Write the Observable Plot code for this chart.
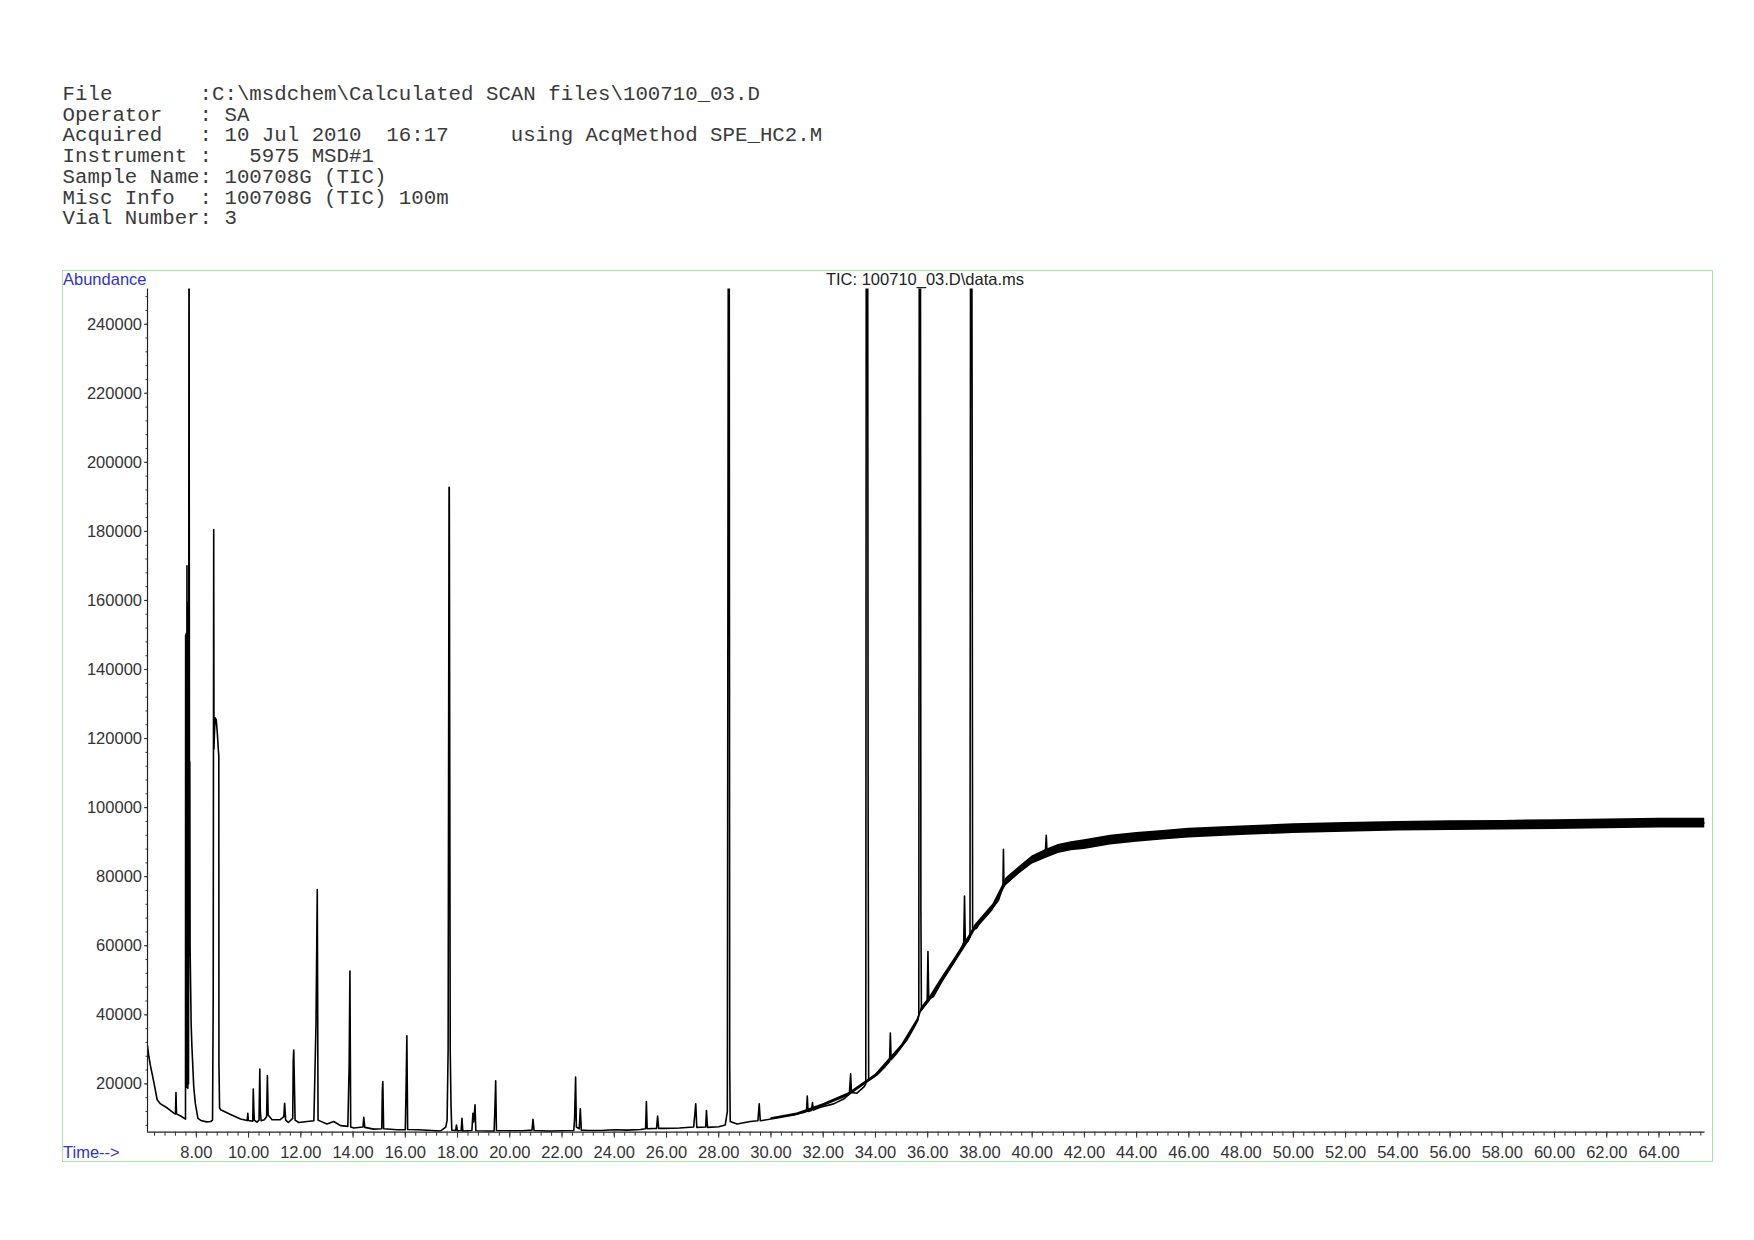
<!DOCTYPE html>
<html><head><meta charset="utf-8">
<script src="https://cdn.jsdelivr.net/npm/d3@7"></script>
<script src="https://cdn.jsdelivr.net/npm/@observablehq/plot@0.6"></script>
<style>
html,body{margin:0;padding:0;background:#fff;}
body{width:1754px;height:1240px;position:relative;overflow:hidden;}
#hdr{position:absolute;left:62.6px;top:85px;font-family:"Liberation Mono","DejaVu Sans Mono",monospace;font-size:20.75px;line-height:20.7px;white-space:pre;color:#3a3a3a;}
#chart{position:absolute;left:62px;top:269.5px;}
#frame{position:absolute;left:62px;top:269.5px;width:1651px;height:892px;border:1.5px solid #a6e3a6;box-sizing:border-box;}
.lbl{position:absolute;font-family:"Liberation Sans",Arial,sans-serif;font-size:16.5px;line-height:18.4px;white-space:pre;}
</style></head><body>
<div id="hdr"></div>
<div id="chart"></div>
<div id="frame"></div>
<div class="lbl" id="ylab" style="left:63px;top:269.5px;color:#3232c8"></div>
<div class="lbl" id="xlab" style="left:63px;top:1143px;color:#3232c8"></div>
<div class="lbl" id="title" style="left:925px;top:269.5px;color:#222;transform:translateX(-50%)"></div>
<script>
const headerLines = [
  "File       :C:\\msdchem\\Calculated SCAN files\\100710_03.D",
  "Operator   : SA",
  "Acquired   : 10 Jul 2010  16:17     using AcqMethod SPE_HC2.M",
  "Instrument :   5975 MSD#1",
  "Sample Name: 100708G (TIC)",
  "Misc Info  : 100708G (TIC) 100m",
  "Vial Number: 3"
];
const titleText = "TIC: 100710_03.D\\data.ms";
const yLabelText = "Abundance";
const xLabelText = "Time-->";

// retention time (min) and abundance of the TIC trace
const traceT = [6.13,6.18,6.25,6.38,6.50,6.63,6.89,7.14,7.20,7.22,7.24,7.40,7.585,7.59,7.605,7.615,7.63,7.64,7.65,7.66,7.675,7.685,7.70,7.71,7.72,7.735,7.75,7.76,7.80,7.83,7.90,7.96,8.06,8.20,8.40,8.55,8.62,8.645,8.665,8.675,8.69,8.72,8.76,8.80,8.84,8.86,8.865,8.89,8.93,9.31,9.69,9.95,9.97,9.99,10.16,10.18,10.20,10.22,10.32,10.40,10.43,10.45,10.48,10.60,10.69,10.72,10.75,10.90,11.20,11.35,11.38,11.42,11.52,11.69,11.71,11.73,11.75,11.78,11.92,12.24,12.50,12.58,12.63,12.66,13.00,13.26,13.52,13.80,13.85,13.88,13.91,14.03,14.38,14.41,14.45,14.79,15.10,15.12,15.14,15.17,15.69,16.00,16.03,16.06,16.09,16.50,17.00,17.34,17.55,17.60,17.64,17.675,17.685,17.72,17.75,17.78,17.93,17.96,17.99,18.14,18.17,18.20,18.55,18.59,18.62,18.67,18.70,19.40,19.44,19.46,19.49,20.00,20.50,20.85,20.89,20.93,21.50,22.00,22.45,22.48,22.52,22.55,22.66,22.70,22.74,23.00,23.50,24.00,24.50,25.00,25.20,25.23,25.26,25.62,25.66,25.70,26.00,26.50,27.04,27.12,27.16,27.50,27.53,27.57,28.00,28.25,28.33,28.37,28.40,28.42,28.44,28.70,29.21,29.50,29.55,29.59,30.23,30.87,31.25,31.36,31.39,31.42,31.55,31.59,31.62,31.89,32.40,32.78,33.00,33.05,33.08,33.29,33.57,33.63,33.65,33.70,33.72,33.74,34.06,34.37,34.54,34.57,34.60,34.82,35.20,35.46,35.63,35.66,35.68,35.72,35.74,35.76,35.85,35.98,36.01,36.04,36.22,36.54,36.86,37.12,37.31,37.38,37.41,37.44,37.53,37.62,37.645,37.68,37.70,37.72,37.86,38.14,38.52,38.71,38.84,38.88,38.90,38.92,39.29,39.54,39.80,40.05,40.30,40.50,40.54,40.57,40.80,41.20,41.70,42,43,44,45,46,48,50,52,54,56,58,60,62,64,65.76];
const traceV = [31000,28000,25000,20200,15400,14200,13000,11500,11300,17500,11300,10700,9800,150000,20000,150500,19000,170000,25000,159500,18700,159000,20000,159000,300000,113700,113000,60000,37500,30800,19200,14400,10000,9300,9000,9100,9500,44000,180500,117000,121000,126000,125500,122000,117000,115000,26000,13000,12500,11100,9800,9400,11500,9400,9200,18500,13000,9500,8900,9500,24300,12000,9300,9600,10500,22400,11000,9600,9600,10500,14400,9500,8800,10000,27000,29800,22000,9500,8800,9100,9300,37000,76300,9500,8400,9100,7900,7700,25000,52700,7500,7200,7500,10300,7400,6900,7000,18000,20700,7000,6700,6700,19000,33900,6800,6700,6500,6300,7500,9400,30000,192800,192800,29800,13900,6600,6500,8100,6400,6500,10000,6300,6500,11500,9000,13900,6400,6300,15000,20900,6500,6400,6400,6600,9700,6500,6300,6400,6500,9800,22000,7500,7000,12800,6600,6500,6500,6700,6600,6800,7000,14900,7000,7100,10700,7100,7100,7200,7500,14200,7400,7500,12300,7400,7600,8100,12000,300000,300000,26000,9100,8400,9100,9300,14200,9300,10100,11000,11700,12000,16500,12000,12300,14600,12400,13200,14200,15600,17000,22900,17500,17300,19200,20000,300000,300000,95400,21200,22600,25000,26500,34700,27000,28900,32700,36100,38500,40000,300000,300000,70000,41400,42500,44000,58300,44500,45300,49600,53500,56800,59700,61000,74400,61000,61200,62500,300000,300000,224000,65000,65000,68400,71300,73200,76100,77000,87900,77500,80000,81900,83800,84800,85700,86500,92000,87000,87700,88600,89000,89300,90600,91400,92000,92600,93300,93900,94300,94600,94800,94900,95100,95300,95500,95500];

// noise band of the baseline (lower / upper edge)
const bandT  = [30,31,32,33,34,35,35.6,35.76,36.1,36.5,37,37.6,37.8,38.5,38.85,39,39.5,40,40.5,41,41.5,42,43,44,45,46,48,50,52,54,56,58,60,62,64,65.76];
const bandLo = [9650,10850,13350,16500,21800,30100,37400,40700,43900,48600,54300,61400,64100,70100,75300,77400,80700,83600,85200,86700,87500,87900,89200,90000,90600,91200,91900,92500,92900,93200,93400,93500,93700,93900,94100,94100];
const bandHi = [10150,11550,14250,17500,22800,31300,38800,42100,45500,50400,56100,63200,65900,72100,77300,79600,82900,86000,87800,89300,90100,90700,92000,92800,93400,94000,94700,95300,95700,96000,96200,96300,96500,96700,96900,96900];

const xMajor = [8,10,12,14,16,18,20,22,24,26,28,30,32,34,36,38,40,42,44,46,48,50,52,54,56,58,60,62,64];
const yMajor = [20000,40000,60000,80000,100000,120000,140000,160000,180000,200000,220000,240000];
const xDomain = [6.13, 65.76];
const yDomain = [6000, 250200];

document.getElementById("hdr").textContent = headerLines.join("\n");
document.getElementById("title").textContent = titleText;
document.getElementById("ylab").textContent = yLabelText;
document.getElementById("xlab").textContent = xLabelText;

const trace = traceT.map((t, i) => ({t, v: traceV[i]}));
const band = bandT.map((t, i) => ({t, lo: bandLo[i], hi: bandHi[i]}));
const xMinor = d3.range(64, 658, 4).map(d => d / 10);
const yMinor = d3.range(8000, 250001, 4000);

const chart = Plot.plot({
  width: 1650, height: 891,
  marginLeft: 85, marginRight: 7.5, marginTop: 18.5, marginBottom: 29.3,
  x: {domain: xDomain},
  y: {domain: yDomain},
  style: {fontFamily: "'Liberation Sans', Arial, sans-serif", fontSize: "16.5px", color: "#333", background: "transparent", maxWidth: "none", overflow: "visible"},
  marks: [
    Plot.areaY(band, {x: "t", y1: "lo", y2: "hi", fill: "#000", clip: true}),
    Plot.line(trace, {x: "t", y: "v", stroke: "#000", strokeWidth: 1.6, clip: true}),
    Plot.ruleX([xDomain[0]], {stroke: "#222", strokeWidth: 1.2}),
    Plot.ruleY([yDomain[0]], {stroke: "#222", strokeWidth: 1.2}),
    Plot.axisY({ticks: yMinor, tickSize: 1.5, tickFormat: () => "", label: null}),
    Plot.axisY({ticks: yMajor, tickSize: 3, tickPadding: 2.5, tickFormat: d => String(d), label: null}),
    Plot.axisX({ticks: xMinor, tickSize: 4, tickFormat: () => "", label: null}),
    Plot.axisX({ticks: xMajor, tickSize: 6, tickPadding: 8, tickFormat: d => d.toFixed(2), label: null})
  ]
});
document.getElementById("chart").appendChild(chart);
</script>
</body></html>
